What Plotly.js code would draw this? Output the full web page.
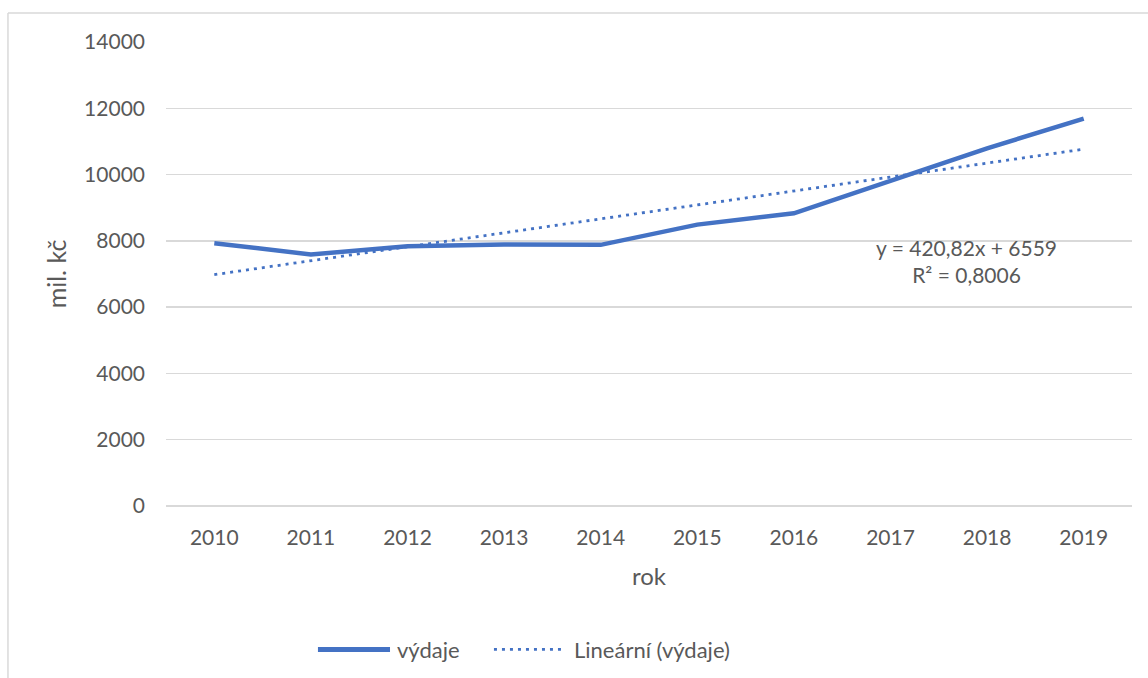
<!DOCTYPE html>
<html>
<head>
<meta charset="utf-8">
<script src="https://cdn.plot.ly/plotly-3.0.1.min.js"></script>
<style>
html,body{margin:0;padding:0;background:#fff;}
#chart{width:1148px;height:678px;}
</style>
</head>
<body>
<div id="chart"></div>
<script>
// Data
const years = ['2010','2011','2012','2013','2014','2015','2016','2017','2018','2019'];
const vydaje = [7930, 7590, 7840, 7890, 7880, 8490, 8830, 9820, 10790, 11690];
const linearni = [6980, 7401, 7821, 8242, 8663, 9084, 9505, 9926, 10346, 10767];
const seriesNames = ['výdaje', 'Lineární (výdaje)'];
const trendLabel = 'y = 420,82x + 6559<br>R² = 0,8006';
const yTicks = [0, 2000, 4000, 6000, 8000, 10000, 12000, 14000];

const FONT = 'Lato, "Open Sans", "Liberation Sans", sans-serif';
const TXT = '#595959';
const BLUE = '#4472C4';
const DOTS = '3px,5px';

const traces = [
  {
    x: years, y: vydaje, name: seriesNames[0], type: 'scatter', mode: 'lines',
    line: {color: BLUE, width: 4.5}, showlegend: false
  },
  {
    x: years, y: linearni, name: seriesNames[1], type: 'scatter', mode: 'lines',
    line: {color: BLUE, width: 2.8, dash: DOTS}, showlegend: false
  }
];

// legend geometry (paper coordinates)
const legY = -0.309;
const layout = {
  width: 1148, height: 678,
  margin: {l: 166, r: 16, t: 42, b: 172},
  paper_bgcolor: '#fff', plot_bgcolor: '#fff',
  font: {family: FONT, color: TXT, size: 21},
  showlegend: false,
  xaxis: {
    type: 'category',
    range: [-0.5, 9.5],
    showgrid: false, zeroline: false, showline: false,
    ticks: '', ticklabelstandoff: 17,
    tickfont: {family: FONT, color: TXT, size: 21},
    title: {text: 'rok', font: {family: FONT, color: TXT, size: 24}, standoff: 20},
    fixedrange: true
  },
  yaxis: {
    range: [0, 14000],
    tickvals: yTicks,
    ticktext: yTicks.map(String),
    showgrid: true, gridcolor: '#d9d9d9', gridwidth: 1.5,
    zeroline: true, zerolinecolor: '#d9d9d9', zerolinewidth: 1.5,
    showline: false, ticks: '', ticklabelstandoff: 20,
    tickfont: {family: FONT, color: TXT, size: 21},
    title: {text: 'mil. kč', font: {family: FONT, color: TXT, size: 25}, standoff: 10},
    fixedrange: true
  },
  annotations: [
    {
      xref: 'paper', yref: 'paper', x: 0.829, y: 0.528,
      xanchor: 'center', yanchor: 'middle',
      text: trendLabel, showarrow: false, align: 'center',
      font: {family: FONT, color: TXT, size: 21}
    },
    {
      xref: 'paper', yref: 'paper', x: 0.2371, y: legY,
      xanchor: 'left', yanchor: 'middle', showarrow: false,
      text: seriesNames[0], font: {family: FONT, color: TXT, size: 22}
    },
    {
      xref: 'paper', yref: 'paper', x: 0.4203, y: legY,
      xanchor: 'left', yanchor: 'middle', showarrow: false,
      text: seriesNames[1], font: {family: FONT, color: TXT, size: 22}
    }
  ],
  shapes: [
    // chart area border (left and top edges visible in the reference)
    {type: 'line', xref: 'paper', yref: 'paper', x0: -0.1636, x1: -0.1636, y0: 1.0625, y1: -0.5,
     line: {color: '#d9d9d9', width: 1.5}},
    {type: 'line', xref: 'paper', yref: 'paper', x0: -0.1636, x1: 1.05, y0: 1.0625, y1: 1.0625,
     line: {color: '#d9d9d9', width: 1.5}},
    // legend samples
    {type: 'line', xref: 'paper', yref: 'paper', x0: 0.1573, x1: 0.2319, y0: legY, y1: legY,
     line: {color: BLUE, width: 5}},
    {type: 'line', xref: 'paper', yref: 'paper', x0: 0.3395, x1: 0.4130, y0: legY, y1: legY,
     line: {color: BLUE, width: 2.8, dash: DOTS}}
  ]
};

Plotly.newPlot('chart', traces, layout, {staticPlot: true, displayModeBar: false});
</script>
</body>
</html>
